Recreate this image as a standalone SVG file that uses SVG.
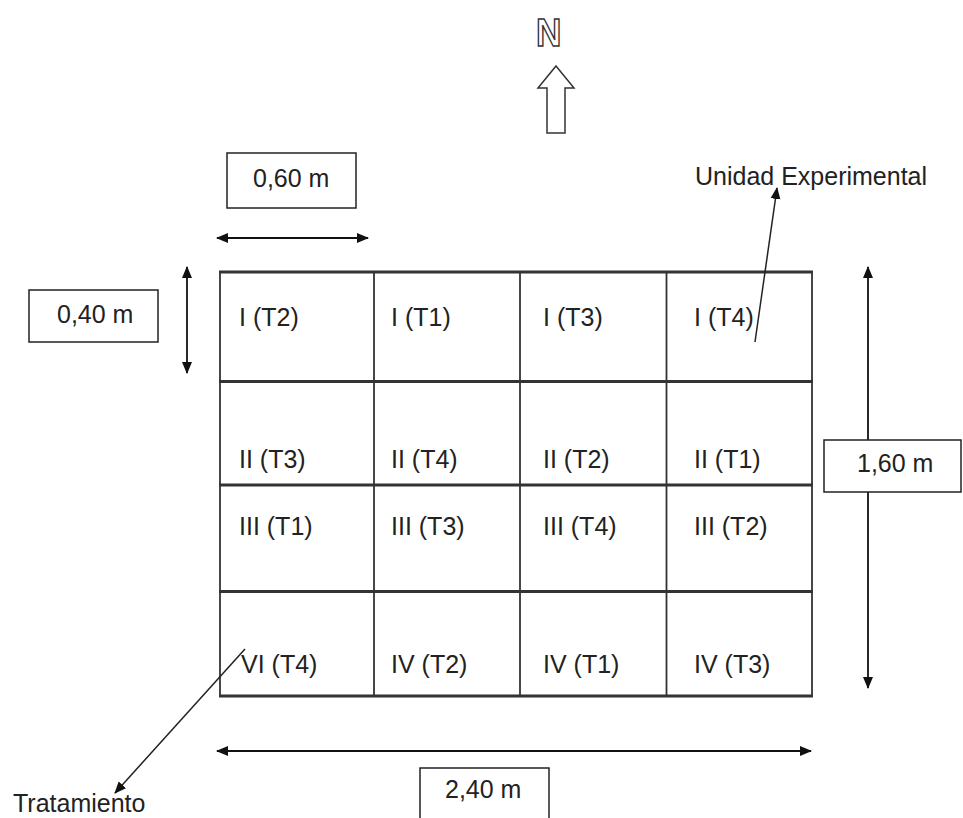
<svg xmlns="http://www.w3.org/2000/svg" width="963" height="818" viewBox="0 0 963 818">
<defs>
<marker id="ah" markerUnits="userSpaceOnUse" markerWidth="12" markerHeight="12" refX="11" refY="6" orient="auto-start-reverse" viewBox="0 0 12 12">
<path d="M0,1 L12,6 L0,11 z" fill="#111"/>
</marker>
<style>
.t{font-family:"Liberation Sans",Arial,sans-serif;font-size:25px;fill:#222}
.c{font-family:"Liberation Sans",Arial,sans-serif;font-size:25px;fill:#222}
.box{fill:#fff;stroke:#222;stroke-width:1.5}
.hl{stroke:#333;stroke-width:3}
.vl{stroke:#333;stroke-width:1.8}
.dim{stroke:#111;stroke-width:1.8;fill:none;marker-start:url(#ah);marker-end:url(#ah)}
.ptr{stroke:#222;stroke-width:1.5;fill:none;marker-end:url(#ah)}
.nn{font-family:"Liberation Sans",Arial,sans-serif;font-weight:bold;font-size:39px;fill:#fff;stroke:#333;stroke-width:1.5}
</style>
</defs>
<rect width="963" height="818" fill="#fff"/>

<g id="north">
<text class="nn" x="536" y="46" transform="translate(536 0) scale(0.9 1) translate(-536 0)">N</text>
<path d="M556,66 L574,88 L565,88 L565,133 L547,133 L547,88 L538,88 Z" fill="#fff" stroke="#333" stroke-width="1.5" stroke-linejoin="miter"/>
</g>

<g id="grid">
<line class="vl" x1="220" y1="272" x2="220" y2="696"/>
<line class="vl" x1="374" y1="272" x2="374" y2="696"/>
<line class="vl" x1="520" y1="272" x2="520" y2="696"/>
<line class="vl" x1="666.5" y1="272" x2="666.5" y2="696"/>
<line class="vl" x1="812" y1="272" x2="812" y2="696"/>
<line class="hl" x1="219" y1="272" x2="813" y2="272"/>
<line class="hl" x1="219" y1="381.5" x2="813" y2="381.5"/>
<line class="hl" x1="219" y1="485" x2="813" y2="485"/>
<line class="hl" x1="219" y1="591.5" x2="813" y2="591.5"/>
<line class="hl" x1="219" y1="696" x2="813" y2="696"/>
</g>

<g id="cells">
<g id="r1c1"><text class="c" x="239" y="326">I (T2)</text></g>
<g id="r1c2"><text class="c" x="391" y="326">I (T1)</text></g>
<g id="r1c3"><text class="c" x="543" y="326">I (T3)</text></g>
<g id="r1c4"><text class="c" x="694" y="326">I (T4)</text></g>
<g id="r2c1"><text class="c" x="239" y="468">II (T3)</text></g>
<g id="r2c2"><text class="c" x="391" y="468">II (T4)</text></g>
<g id="r2c3"><text class="c" x="543" y="468">II (T2)</text></g>
<g id="r2c4"><text class="c" x="694" y="468">II (T1)</text></g>
<g id="r3c1"><text class="c" x="239" y="535">III (T1)</text></g>
<g id="r3c2"><text class="c" x="391" y="535">III (T3)</text></g>
<g id="r3c3"><text class="c" x="543" y="535">III (T4)</text></g>
<g id="r3c4"><text class="c" x="694" y="535">III (T2)</text></g>
<g id="r4c1"><text class="c" x="241" y="673">VI (T4)</text></g>
<g id="r4c2"><text class="c" x="391" y="673">IV (T2)</text></g>
<g id="r4c3"><text class="c" x="543" y="673">IV (T1)</text></g>
<g id="r4c4"><text class="c" x="694" y="673">IV (T3)</text></g>
</g>

<g id="connectors">
<line class="dim" x1="217" y1="238" x2="368" y2="238"/>
<line class="dim" x1="187" y1="267" x2="187" y2="373"/>
<line class="dim" x1="868" y1="267" x2="868" y2="688"/>
<line class="dim" x1="217" y1="751" x2="811" y2="751"/>
<line class="ptr" x1="755" y1="342" x2="777" y2="188"/>
<line class="ptr" x1="245" y1="649" x2="115" y2="793"/>
</g>

<g id="lbl060"><rect class="box" x="227" y="153" width="129" height="55"/><text class="t" x="253" y="187">0,60 m</text></g>
<g id="lbl040"><rect class="box" x="29" y="290" width="129" height="52"/><text class="t" x="57" y="323">0,40 m</text></g>
<g id="lbl160"><rect class="box" x="824" y="440" width="137" height="52"/><text class="t" x="857" y="472">1,60 m</text></g>
<g id="lbl240"><rect class="box" x="420" y="768" width="129" height="60"/><text class="t" x="445" y="798">2,40 m</text></g>
<g id="lblUE"><text class="t" x="695" y="185">Unidad Experimental</text></g>
<g id="lblTrat"><text class="t" x="13" y="812">Tratamiento</text></g>
</svg>
